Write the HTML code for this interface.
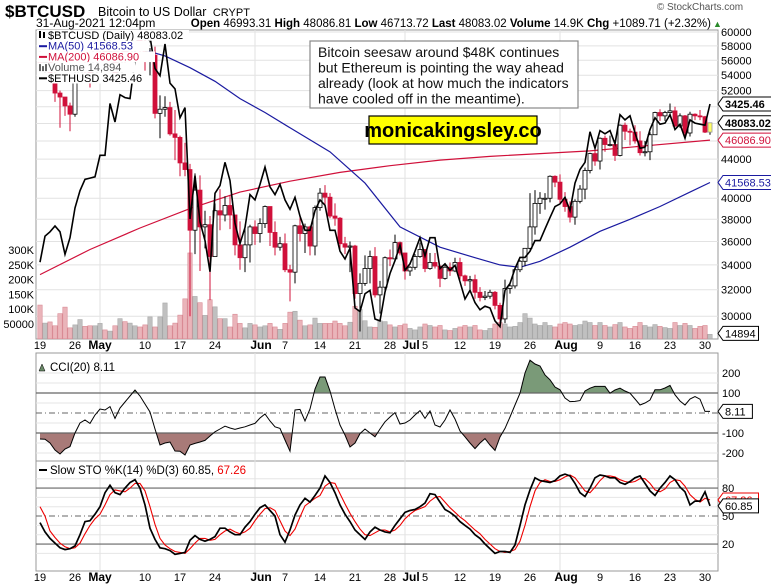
<!DOCTYPE html>
<html><head><meta charset="utf-8"><style>
html,body{margin:0;padding:0;background:#fff}
svg{display:block;font-family:"Liberation Sans",Arial,sans-serif}
</style></head><body>
<svg id="c" width="771" height="586" viewBox="0 0 771 586" xmlns="http://www.w3.org/2000/svg">
<rect x="0" y="0" width="771" height="586" fill="#fff"/>
<text x="5" y="17" font-size="17" font-weight="bold">$BTCUSD</text>
<text x="98" y="16" font-size="12.5">Bitcoin to US Dollar <tspan font-size="11" dx="3">CRYPT</tspan></text>
<text x="700" y="10" font-size="10" fill="#555" text-anchor="middle">© StockCharts.com</text>
<text x="36" y="27" font-size="12">31-Aug-2021 12:04pm</text>
<text x="711" y="27" font-size="11.5" text-anchor="end"><tspan font-weight="bold">Open</tspan> 46993.31 <tspan font-weight="bold">High</tspan> 48086.81 <tspan font-weight="bold">Low</tspan> 46713.72 <tspan font-weight="bold">Last</tspan> 48083.02 <tspan font-weight="bold">Volume</tspan> 14.9K <tspan font-weight="bold">Chg</tspan> +1089.71 (+2.32%)</text>
<text x="713" y="27" font-size="9" fill="#2a8a2a">▲</text>
<g id="g"></g>
</svg>
<script>
const closes=[55.7,56.5,53.8,51.7,51.2,50.1,49.1,54.0,55.0,54.9,53.6,57.8,
57.8,56.6,57.2,53.2,57.5,56.4,57.4,58.9,58.2,55.9,56.7,49.2,49.7,49.9,46.8,46.4,43.6,42.9,37.0,40.8,37.3,37.5,34.7,38.8,38.4,39.3,38.4,35.7,34.6,35.7,37.3,
36.7,37.6,39.2,36.8,35.5,35.8,33.6,33.4,37.4,36.7,37.3,35.6,39.1,40.5,40.1,38.3,38.1,35.8,35.5,35.6,31.7,32.5,33.7,34.7,31.6,32.2,34.6,34.5,35.9,35.0,
33.5,33.8,34.7,35.3,33.7,34.2,33.9,32.9,33.8,33.5,34.2,33.1,32.7,32.8,31.8,31.4,31.5,31.8,30.8,29.8,32.1,32.3,33.6,34.3,35.4,37.3,39.5,40.0,40.0,42.2,41.6,
39.9,39.2,38.2,39.7,40.9,42.8,44.6,43.8,46.3,45.6,45.6,44.4,47.8,47.1,47.0,46.0,44.7,44.8,46.7,49.3,48.9,49.3,49.5,47.7,48.9,46.9,49.1,48.9,48.8,47.0,48.08];
const firstOpen=56.2;
const highs=[57.5,57.0,56.8,55.4,52.0,51.2,50.5,54.4,55.5,56.4,55.2,57.9,
58.4,57.9,58.9,57.1,57.9,58.4,58.6,59.2,59.5,59.6,57.7,57.9,51.4,51.3,50.6,49.6,46.6,45.8,43.5,42.5,42.3,38.8,38.3,39.5,40.9,40.2,40.3,37.9,37.8,37.5,37.5,
37.9,38.1,39.3,39.2,37.8,36.4,36.7,34.0,37.5,38.3,37.6,37.4,39.3,41.0,41.3,40.5,39.5,38.2,36.4,36.0,35.7,33.3,34.8,35.2,35.5,32.7,34.7,35.3,36.6,36.0,
35.0,33.9,34.9,35.9,35.3,35.0,35.0,33.9,34.0,34.2,34.6,34.6,33.2,33.1,33.2,32.2,31.9,32.0,31.9,31.0,32.8,32.6,33.6,34.4,35.4,40.5,40.8,40.6,40.5,42.3,42.3,
42.4,40.6,39.7,39.9,41.3,43.1,44.7,45.2,46.4,46.6,46.6,46.1,47.9,48.1,47.4,47.8,47.1,46.0,47.0,49.4,49.7,49.5,50.4,50.0,49.2,49.0,49.4,49.2,49.6,48.9,48.1];
const lows=[54.6,53.4,53.6,50.6,47.5,48.9,47.1,48.8,53.0,53.9,52.4,53.1,
56.9,56.4,56.5,53.1,52.9,55.3,55.9,56.9,56.3,54.6,54.0,48.6,46.3,48.8,46.6,43.9,42.2,42.2,30.0,34.9,33.5,35.4,31.2,34.7,37.0,37.8,37.1,34.8,33.6,33.4,34.2,
35.7,35.9,37.2,35.6,34.8,35.2,33.4,31.1,32.5,36.0,35.0,34.8,34.8,38.8,39.4,38.1,37.4,35.3,34.9,33.4,31.3,28.9,32.3,32.5,31.4,30.2,31.7,33.9,34.3,34.8,
32.8,33.1,33.6,34.6,33.4,33.6,33.7,32.2,32.8,33.1,33.4,32.8,32.3,31.9,31.3,31.1,31.2,31.3,30.5,29.3,29.5,31.7,32.1,33.4,33.9,35.3,36.6,38.5,38.9,39.6,41.1,
39.5,38.7,37.7,37.5,39.5,39.9,42.5,43.3,42.9,44.8,45.4,43.8,44.3,46.1,45.5,45.7,44.4,44.3,43.9,46.7,48.3,48.3,49.2,47.6,47.5,46.6,46.5,48.4,48.4,46.9,46.7];
const volumes=[114,53,57,44,85,107,37,47,65,42,44,44,52,30,26,44,68,58,53,44,40,47,74,40,74,121,44,53,80,135,290,143,122,79,132,108,68,68,40,83,52,37,52,47,40,44,52,40,32,52,90,93,63,44,47,70,52,52,52,60,52,44,56,110,99,61,40,39,61,58,47,40,
45,50,35,30,40,50,45,40,45,30,28,35,40,45,40,45,30,28,35,50,55,50,40,42,55,85,70,50,45,55,45,40,
50,55,50,45,48,60,55,45,55,45,40,48,55,40,35,42,55,45,40,48,42,38,35,55,45,52,45,35,42,45,15];
const eth=[2160,2330,2360,2400,2360,2210,2320,2530,2660,2750,2760,2770,
2950,2950,3430,3250,3520,3490,3480,3900,3930,3950,4170,3800,3720,4080,3640,3580,3290,3390,2450,2780,2430,2300,2100,2640,2700,2890,2740,2420,2280,2390,2630,
2590,2710,2850,2690,2630,2710,2590,2520,2610,2470,2370,2370,2510,2590,2550,2370,2370,2230,2180,2250,1890,1870,1970,1990,1830,1820,1980,2090,2170,2270,
2110,2150,2230,2320,2200,2320,2320,2120,2150,2110,2140,2040,1940,1990,1920,1880,1900,1890,1820,1790,1990,2030,2120,2190,2190,2230,2300,2300,2380,2460,2540,
2560,2610,2510,2720,2830,2890,3160,3010,3170,3140,3170,3050,3320,3270,3310,3150,3010,3020,3180,3290,3230,3240,3320,3180,3230,3100,3270,3240,3230,3220,3425.46];
const ma50Days=[0,5,10,15,18,20,25,30,35,40,45,50,58,65,72,80,87,92,96,100,106,112,118,124,130,134];
const ma50=[57.5,57.8,58.0,58.1,57.8,57.6,56.6,55.0,53.2,51.0,49.3,47.5,44.8,41.5,37.3,35.5,34.6,34.0,33.8,34.3,35.5,36.9,38.0,39.2,40.6,41.57];
const ma200Days=[0,10,20,30,40,50,60,70,80,90,100,110,120,134];
const ma200=[33.2,35.3,37.2,39.0,40.6,41.7,42.6,43.3,43.9,44.3,44.6,44.9,45.4,46.09];
const cci=[-130,-131,-150,-185,-205,-180,-168,-100,-50,-35,-52,-10,20,15,32,-27,25,55,85,115,85,45,5,-80,-160,-150,-145,-190,-191,-210,-160,-152,-145,-137,-115,-94,-80,-66,-75,-82,-75,-69,-60,-52,-25,-5,-40,-69,-77,-135,-191,15,18,-40,20,120,180,180,110,20,-60,-110,-170,-150,-103,-80,-100,-119,-80,-44,-20,2,-55,-50,-35,-10,12,-27,10,-60,-70,-35,15,-30,-90,-119,-150,-178,-150,-128,-160,-187,-120,-77,-20,40,99,200,264,245,235,190,166,130,116,75,57,58,62,110,124,133,133,133,99,115,124,110,99,70,40,50,65,116,116,125,138,91,60,40,70,82,69,8,8.11];
const stoK=[43,33,26,21,16,14,15,18,30,44,45,52,60,75,83,75,73,80,86,89,80,62,37,25,16,15,13,9,10,11,24,29,25,23,25,28,37,37,33,30,30,38,44,52,59,62,56,50,30,22,35,51,62,69,65,72,80,93,86,75,62,52,44,35,30,25,33,38,35,33,32,40,47,54,56,57,60,64,74,73,65,57,54,50,44,40,36,30,26,20,15,10,12,12,11,19,40,62,78,91,88,87,86,88,93,95,93,85,75,71,80,91,94,93,91,91,86,84,87,91,93,85,77,72,80,86,93,89,81,76,62,66,66,76,60.85];
const stoD=[60,50,34,27,21,17,15,16,21,31,40,47,52,62,73,78,77,76,80,85,85,77,60,41,26,19,15,12,11,10,15,21,26,26,24,25,30,34,36,33,31,33,37,45,52,58,59,56,45,34,29,36,49,61,65,69,72,82,86,85,74,63,53,44,36,30,29,32,35,35,33,35,40,47,52,56,58,60,66,70,71,65,59,54,49,45,40,35,31,25,20,15,12,11,12,14,23,40,60,77,86,89,87,87,89,92,94,91,84,77,75,81,88,93,93,92,89,87,86,87,90,90,85,78,76,79,86,89,88,82,73,68,65,69,67.26];
const priceTicks=[60000,58000,56000,54000,52000,44000,40000,38000,36000,34000,32000,30000];
const priceGrid=[30000,32000,34000,36000,38000,40000,42000,44000,46000,48000,50000,52000,54000,56000,58000,60000];
const volTicks=[50,100,150,200,250,300];
const volTickLabels=['50000','100K','150K','200K','250K','300K'];
const cciTicks=[200,100,-100,-200];
const stoTicks=[80,50,20];
const dateIdx=[0,7,12,21,28,35,43,49,56,63,70,73,77,84,91,98,104,112,119,126,133];
const dateLabels=['19','26','May','10','17','24','Jun','7','14','21','28','Jul','5','12','19','26','Aug','9','16','23','30'];
const monthIdx=[12,43,73,104];

const NS='http://www.w3.org/2000/svg';
const G=document.getElementById('g');
function mk(tag,attrs,parent){const e=document.createElementNS(NS,tag);for(const k in attrs)e.setAttribute(k,attrs[k]);(parent||G).appendChild(e);return e;}
const L=36,R=718;
const xOf=i=>40+5*i;
const yP=p=>32+(Math.log(60000)-Math.log(p))*410;
const yK=k=>yP(k*1000);
const yE=e=>104+(Math.log(3425.46)-Math.log(e))*343;
const yV=v=>338.8-v*0.296;
const yC=c=>413-c*0.2;
const yS=s=>562.7-s*0.933;

const panels=[[30,339,'price-panel'],[353,461,'cci-panel'],[461,571,'sto-panel']];
panels.forEach(p=>{
  const r=mk('rect',{x:L,y:p[0],width:R-L,height:p[1]-p[0],fill:'#fff',stroke:'#999','stroke-width':1});
  
  
});
priceGrid.forEach(v=>{const l=mk('line',{x1:L,x2:R,y1:yP(v),y2:yP(v),stroke:'#e2e2e2'});
  
  });
[-200,-150,-50,50,150,200].forEach(v=>{const l=mk('line',{x1:L,x2:R,y1:yC(v),y2:yC(v),stroke:'#e6e6e6'});
  
  });
[10,30,40,60,70,90].forEach(v=>{const l=mk('line',{x1:L,x2:R,y1:yS(v),y2:yS(v),stroke:'#e6e6e6'});
  
  });
monthIdx.forEach(i=>{panels.forEach(p=>{const l=mk('line',{x1:xOf(i),x2:xOf(i),y1:p[0],y2:p[1],stroke:'#e2e2e2'});
  
  });});

volumes.forEach((v,i)=>{
  const o=i===0?firstOpen:closes[i-1];
  const down=closes[i]<o;
  const b=mk('rect',{x:xOf(i)-2.2,y:yV(v),width:4.4,height:338.8-yV(v),fill:down?'#eab4ba':'#c0c0c0',stroke:down?'#d98a94':'#a8a8a8','stroke-width':0.6});
  
  
});
function pathFrom(idx,vals,fy){return idx.map((d,k)=>(k?'L':'M')+xOf(d).toFixed(1)+','+fy(vals[k]).toFixed(1)).join('');}
const m2=mk('path',{d:pathFrom(ma200Days,ma200,yK),fill:'none',stroke:'#d0103a','stroke-width':1.2});


const m5=mk('path',{d:pathFrom(ma50Days,ma50,yK),fill:'none',stroke:'#1a1aa0','stroke-width':1.2});


closes.forEach((c,i)=>{
  const o=i===0?firstOpen:closes[i-1];
  const down=c<o;const col=down?'#d0103a':'#000';
  const x=xOf(i);
  const w=mk('line',{x1:x,x2:x,y1:yK(highs[i]),y2:yK(lows[i]),stroke:col,'stroke-width':1});
  
  
  const top=Math.min(yK(o),yK(c)),h=Math.max(1,Math.abs(yK(o)-yK(c)));
  const b=mk('rect',{x:x-2,y:top,width:4,height:h,fill:down?'#d0103a':'#fff',stroke:col,'stroke-width':0.8});
  if(i===closes.length-1){b.setAttribute('fill','#ffff66');b.setAttribute('stroke','#999');}
  
  
});
const ep=mk('path',{d:pathFrom(eth.map((_,i)=>i),eth,yE),fill:'none',stroke:'#000','stroke-width':1.6});



const defs=mk('defs',{});
const ca=mk('clipPath',{id:'ca'},defs);mk('rect',{x:L,y:353,width:R-L,height:yC(100)-353},ca);
const cb=mk('clipPath',{id:'cb'},defs);mk('rect',{x:L,y:yC(-100),width:R-L,height:461-yC(-100)},cb);
const cciPts=cci.map((v,i)=>xOf(i).toFixed(1)+','+yC(v).toFixed(1));
const fa=mk('polygon',{points:xOf(0)+','+yC(100)+' '+cciPts.join(' ')+' '+xOf(cci.length-1)+','+yC(100),fill:'#7a9a78','clip-path':'url(#ca)'});


const fb=mk('polygon',{points:xOf(0)+','+yC(-100)+' '+cciPts.join(' ')+' '+xOf(cci.length-1)+','+yC(-100),fill:'#a87a78','clip-path':'url(#cb)'});


[100,-100].forEach(v=>{const l=mk('line',{x1:L,x2:R,y1:yC(v),y2:yC(v),stroke:'#666','stroke-width':1.2});
  
  });
const cz=mk('line',{x1:L,x2:R,y1:yC(0),y2:yC(0),stroke:'#666','stroke-dasharray':'6,3,1,3'});


const cl=mk('polyline',{points:cciPts.join(' '),fill:'none',stroke:'#000','stroke-width':1});



[80,20].forEach(v=>{const l=mk('line',{x1:L,x2:R,y1:yS(v),y2:yS(v),stroke:'#666','stroke-width':1.2});
  
  });
const sz=mk('line',{x1:L,x2:R,y1:yS(50),y2:yS(50),stroke:'#666','stroke-dasharray':'6,3,1,3'});


const sd=mk('polyline',{points:stoD.map((v,i)=>xOf(i).toFixed(1)+','+yS(v).toFixed(1)).join(' '),fill:'none',stroke:'#e00','stroke-width':1.1});


const sk=mk('polyline',{points:stoK.map((v,i)=>xOf(i).toFixed(1)+','+yS(v).toFixed(1)).join(' '),fill:'none',stroke:'#000','stroke-width':1.7});



function txt(x,y,s,attrs){const t=mk('text',Object.assign({x:x,y:y,'font-size':11},attrs||{}));t.textContent=s;return t;}
priceTicks.forEach(v=>{const t=txt(721,yP(v)+4,String(v));
  
  });
volTicks.forEach((v,k)=>{const t=txt(34,yV(v)+4,volTickLabels[k],{'text-anchor':'end'});
  
  });
cciTicks.forEach(v=>{const t=txt(722,yC(v)+4,String(v));
  
  });
stoTicks.forEach(v=>{const t=txt(722,yS(v)+4,String(v));
  
  });
[349,581].forEach(yy=>{dateIdx.forEach((i,k)=>{
  const isM=monthIdx.indexOf(i)>=0;
  const t=txt(xOf(i)+(isM&&i>12?6:0),yy,dateLabels[k],{'text-anchor':'middle','font-weight':isM?'bold':'normal','font-size':isM?12:11});
  
  });});

function tag(y,s,col,bold,name){
  const w=s.length*(bold?6.4:6.1)+5;
  const g=mk('g',{});
  
  
  mk('polygon',{points:`${R},${y} ${R+5},${y-7} ${R+5+w},${y-7} ${R+5+w},${y+7} ${R+5},${y+7}`,fill:'#fff',stroke:col,'stroke-width':1},g);
  const t=mk('text',{x:R+7,y:y+4,'font-size':11,fill:col,'font-weight':bold?'bold':'normal'},g);t.textContent=s;
}
tag(yE(eth[eth.length-1]),'3425.46','#000',true,'eth-last-tag');
tag(yK(closes[closes.length-1]),'48083.02','#000',true,'btc-last-tag');
tag(yK(ma200[ma200.length-1]),'46086.90','#d0103a',false,'ma200-tag');
tag(yK(ma50[ma50.length-1]),'41568.53','#1a1aa0',false,'ma50-tag');
tag(yV(volumes[volumes.length-1])-1,'14894','#000',false,'volume-tag');
tag(yC(cci[cci.length-1]),'8.11','#000',false,'cci-tag');
tag(yS(stoD[stoD.length-1]),'67.26','#e00',false,'sto-d-tag');
tag(yS(stoK[stoK.length-1]),'60.85','#000',false,'sto-k-tag');

const leg=[['$BTCUSD (Daily) 48083.02','#000',140],['MA(50) 41568.53','#1a1aa0',100],['MA(200) 46086.90','#d0103a',106],['Volume 14,894','#555',86],['$ETHUSD 3425.46','#000',100]];
leg.forEach((l,k)=>{
  const y=39+k*10.7;
  mk('rect',{x:37,y:y-9,width:l[2]+12,height:10.7,fill:'#fff'});
  if(k===0){mk('rect',{x:39,y:y-8,width:2,height:7,fill:'#000'});mk('rect',{x:43,y:y-7,width:2,height:6,fill:'#000'});}
  else if(k===3){[0,3,6].forEach(d=>mk('rect',{x:39+d,y:y-7+d%2*2,width:2,height:7-d%2*2,fill:'#666'}));}
  else mk('line',{x1:39,x2:47,y1:y-3.5,y2:y-3.5,stroke:l[1],'stroke-width':2});
  const t=txt(48,y,l[0],{fill:l[1],'font-size':11});
  
  
});
const t1=txt(50,371,'CCI(20) 8.11',{'font-size':11.5});


mk('polygon',{points:'39,371 42,364 45,371',fill:'#6a8a68',stroke:'#000','stroke-width':0.5});
const t2=mk('text',{x:50,y:474,'font-size':11.5});


t2.innerHTML='Slow STO %K(14) %D(3) 60.85, <tspan fill="#e00">67.26</tspan>';
mk('line',{x1:39,x2:47,y1:470,y2:470,stroke:'#000','stroke-width':2});

const ab=mk('rect',{x:310,y:41,width:268,height:67,fill:'#fff',stroke:'#888','stroke-width':1.2});


['Bitcoin seesaw around $48K continues','but Ethereum is pointing the way ahead','already (look at how much the indicators','have cooled off in the meantime).'].forEach((s,k)=>{
  const t=txt(318,57+k*15.5,s,{'font-size':14,fill:'#111'});
  
  
});
const yb=mk('rect',{x:369,y:116,width:168,height:28,fill:'#ffff00',stroke:'#000','stroke-width':1.2});


const yt=txt(453,137,'monicakingsley.co',{'font-size':20,'font-weight':'bold','text-anchor':'middle'});


</script>
</body></html>
